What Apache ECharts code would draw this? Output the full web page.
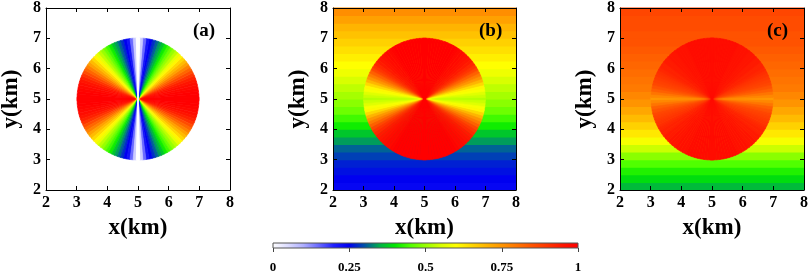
<!DOCTYPE html>
<html>
<head>
<meta charset="utf-8">
<script src="https://cdn.jsdelivr.net/npm/echarts@6/dist/echarts.min.js"></script>
<style>
html, body { margin: 0; padding: 0; background: #fff; }
#chart { width: 809px; height: 274px; }
</style>
</head>
<body>
<div id="chart"></div>
<script>
// axis ticks
var kmTicks = [2, 3, 4, 5, 6, 7, 8];
var cbTicks = [0, 0.25, 0.5, 0.75, 1];
var panelNames = ['(a)', '(b)', '(c)'];

// angle from horizontal (deg), one quadrant
var angles = [0, 3, 6, 9, 12, 15, 18, 21, 24, 27, 30, 33, 36, 39, 42, 45, 48, 51, 54, 57, 60, 63, 66, 69, 72, 75, 78, 81, 84, 87, 90];
var profA = [1.0, 1.0, 1.0, 0.99, 0.98, 0.97, 0.95, 0.93, 0.90, 0.86, 0.82, 0.78, 0.73, 0.69, 0.65, 0.61, 0.57, 0.53, 0.50, 0.47, 0.44, 0.41, 0.37, 0.34, 0.31, 0.28, 0.25, 0.22, 0.15, 0.07, 0.0];
var profB = [0.52, 0.54, 0.56, 0.59, 0.61, 0.65, 0.70, 0.75, 0.79, 0.83, 0.87, 0.90, 0.92, 0.94, 0.95, 0.96, 0.97, 0.98, 0.98, 0.99, 1, 1, 1, 1, 1, 1, 1, 1, 1, 1, 1];
var profC = [0.74, 0.77, 0.80, 0.83, 0.85, 0.87, 0.88, 0.89, 0.90, 0.91, 0.92, 0.93, 0.93, 0.94, 0.94, 0.95, 0.95, 0.95, 0.96, 0.96, 0.96, 0.96, 0.97, 0.97, 0.97, 0.97, 0.97, 0.97, 0.97, 0.97, 0.97];

// background outside the circle, by height y (band centres, km)
var bandY = [2.125, 2.375, 2.625, 2.875, 3.125, 3.375, 3.625, 3.875, 4.125, 4.375, 4.625, 4.875, 5.125, 5.375, 5.625, 5.875, 6.125, 6.375, 6.625, 6.875, 7.125, 7.375, 7.625, 7.875];
var bgB = [0.24, 0.25, 0.26, 0.27, 0.29, 0.31, 0.34, 0.37, 0.41, 0.44, 0.47, 0.49, 0.51, 0.53, 0.55, 0.58, 0.60, 0.62, 0.64, 0.66, 0.68, 0.70, 0.73, 0.76];
var bgC = [0.36, 0.39, 0.42, 0.45, 0.49, 0.54, 0.59, 0.63, 0.66, 0.69, 0.72, 0.75, 0.77, 0.79, 0.80, 0.81, 0.82, 0.83, 0.84, 0.85, 0.85, 0.86, 0.86, 0.87];

// colour map, 0 -> 1 in steps of 0.05
var colorMap = ['#ffffff', '#dcdcff', '#b0b0ff', '#6a6aff', '#2020ff', '#0000f0', '#0050a8', '#00b048', '#00e800', '#50ff00',
    '#98ff00', '#d8ff00', '#ffff00', '#ffd800', '#ffb400', '#ff9400', '#ff7400', '#ff5200', '#ff3400', '#ff1400', '#ff0000'];

var FONT = 'Liberation Serif';
var grids = [
    {left: 46, top: 8, width: 184, height: 182},
    {left: 333, top: 8, width: 183, height: 182},
    {left: 620, top: 8, width: 184, height: 182}
];

function circleData(prof) {
    var out = [];
    for (var i = 0; i < angles.length; i++) {
        var a = angles[i];
        out.push([a, prof[i]], [180 - a, prof[i]], [180 + a, prof[i]], [360 - a, prof[i]]);
    }
    return out;
}

function bandData(bg) {
    var out = [];
    for (var i = 0; i < bandY.length; i++) out.push([bandY[i], bg[i]]);
    return out;
}

function renderSector(params, api) {
    var c = api.coord([5, 5]);
    var s = api.size([2, 2]);
    var r = (s[0] + s[1]) / 2;
    var a = api.value(0);
    var h = 1.6;
    var col = api.visual('color');
    return {
        type: 'sector',
        shape: {cx: c[0], cy: c[1], r0: 0, r: r,
            startAngle: -(a + h) * Math.PI / 180, endAngle: -(a - h) * Math.PI / 180, clockwise: true},
        style: {fill: col, stroke: col, lineWidth: 0.6}
    };
}

function renderBand(params, api) {
    var y = api.value(0);
    var p1 = api.coord([kmTicks[0], y + 0.125]);
    var p2 = api.coord([kmTicks[kmTicks.length - 1], y - 0.125]);
    var col = api.visual('color');
    return {
        type: 'rect',
        shape: {x: p1[0], y: p1[1] - 0.5, width: p2[0] - p1[0], height: p2[1] - p1[1] + 1},
        style: {fill: col}
    };
}

function renderColorbar(params, api) {
    var p1 = api.coord([0, 1]);
    var p2 = api.coord([1, 0]);
    var stops = colorMap.map(function (c, i) { return {offset: i / (colorMap.length - 1), color: c}; });
    return {
        type: 'rect',
        shape: {x: p1[0], y: p1[1], width: p2[0] - p1[0], height: p2[1] - p1[1]},
        style: {fill: new echarts.graphic.LinearGradient(0, 0, 1, 0, stops), stroke: '#555', lineWidth: 1}
    };
}

var labelStyle = {fontFamily: FONT, fontWeight: 'bold', fontSize: 16, color: '#000'};
var nameStyle = {fontFamily: FONT, fontWeight: 'bold', fontSize: 23, color: '#000'};
var xAxes = [], yAxes = [];
for (var i = 0; i < 3; i++) {
    [['bottom', true], ['top', false]].forEach(function (p) {
        xAxes.push({
            gridIndex: i, type: 'value', position: p[0], min: 2, max: 8, interval: 1, z: 5,
            axisLine: {show: true, onZero: false, lineStyle: {color: '#000', width: 1}},
            axisTick: {show: true, inside: true, length: 4, lineStyle: {color: '#000'}},
            axisLabel: Object.assign({show: p[1], margin: 5}, labelStyle),
            splitLine: {show: false},
            name: p[1] ? 'x(km)' : '', nameLocation: 'middle', nameGap: 27, nameTextStyle: nameStyle
        });
    });
    [['left', true], ['right', false]].forEach(function (p) {
        yAxes.push({
            gridIndex: i, type: 'value', position: p[0], min: 2, max: 8, interval: 1, z: 5,
            axisLine: {show: true, onZero: false, lineStyle: {color: '#000', width: 1}},
            axisTick: {show: true, inside: true, length: 4, lineStyle: {color: '#000'}},
            axisLabel: Object.assign({show: p[1], margin: 5}, labelStyle),
            splitLine: {show: false},
            name: p[1] ? 'y(km)' : '', nameLocation: 'middle', nameGap: 23, nameRotate: 90, nameTextStyle: nameStyle
        });
    });
}
xAxes.push({
    gridIndex: 3, type: 'value', min: 0, max: 1, interval: 0.25,
    axisLine: {show: false},
    axisTick: {show: true, length: 4, lineStyle: {color: '#444'}},
    axisLabel: {fontFamily: FONT, fontWeight: 'bold', fontSize: 13, color: '#000', margin: 13,
        formatter: function (v) { return cbTicks.indexOf(v) >= 0 ? String(v) : ''; }},
    splitLine: {show: false}
});
yAxes.push({gridIndex: 3, type: 'value', min: 0, max: 1, show: false});

var myChart = echarts.init(document.getElementById('chart'));
var option = {
    backgroundColor: '#fff',
    animation: false,
    grid: grids.concat([{left: 273, top: 243, width: 305, height: 5}]).map(function (g) {
        return Object.assign({containLabel: false, outerBoundsMode: 'none'}, g);
    }),
    xAxis: xAxes,
    yAxis: yAxes,
    visualMap: {
        type: 'continuous', show: false, min: 0, max: 1, dimension: 1,
        seriesIndex: [0, 1, 2, 3, 4],
        inRange: {color: colorMap}
    },
    series: [
        {type: 'custom', xAxisIndex: 2, yAxisIndex: 2, z: 1, renderItem: renderBand, data: bandData(bgB)},
        {type: 'custom', xAxisIndex: 4, yAxisIndex: 4, z: 1, renderItem: renderBand, data: bandData(bgC)},
        {type: 'custom', xAxisIndex: 0, yAxisIndex: 0, z: 2, renderItem: renderSector, data: circleData(profA)},
        {type: 'custom', xAxisIndex: 2, yAxisIndex: 2, z: 2, renderItem: renderSector, data: circleData(profB)},
        {type: 'custom', xAxisIndex: 4, yAxisIndex: 4, z: 2, renderItem: renderSector, data: circleData(profC)},
        {type: 'custom', xAxisIndex: 6, yAxisIndex: 6, z: 2, renderItem: renderColorbar, data: [[0, 1]]}
    ],
    graphic: panelNames.map(function (t, i) {
        return {
            type: 'text', z: 10,
            left: grids[i].left + grids[i].width - 37, top: 22,
            style: {text: t, fontFamily: FONT, fontWeight: 'bold', fontSize: 19, fill: '#000'}
        };
    })
};
myChart.setOption(option);
</script>
</body>
</html>
